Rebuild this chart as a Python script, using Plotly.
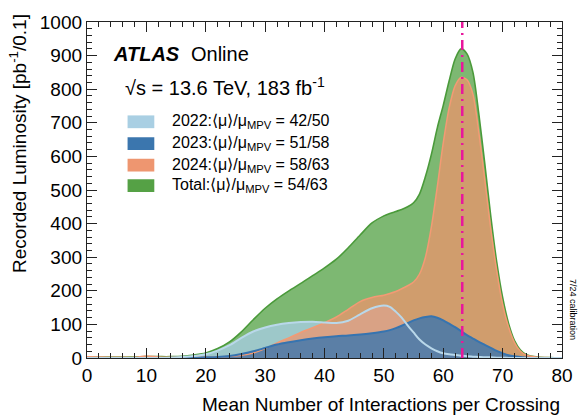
import plotly.graph_objects as go

# ---------------- data ----------------
mu = [0, 2, 4, 6, 8, 10, 12, 14, 16, 18, 20, 22, 24, 26, 28, 30, 32, 34, 36, 38, 40,
      42, 44, 46, 48, 50, 51, 52, 53, 54, 55, 56, 57, 58, 59, 60, 61, 62, 63, 64,
      65, 66, 67, 68, 69, 70, 71, 72, 73, 74, 76, 78, 80]

lumi_total = [3, 3, 3, 3, 3, 4, 4, 4, 5, 9, 15, 28, 48, 78, 114, 148, 176, 200, 222, 245, 268,
              294, 328, 366, 402, 423, 430, 436, 442, 450, 462, 488, 540, 606, 685, 752, 825, 890, 920, 905,
              850, 725, 578, 422, 286, 180, 103, 52, 24, 10, 3, 1, 0]

lumi_2022 = [0, 0, 0, 0, 0, 0, 0, 1, 3, 6, 11, 22, 38, 60, 79, 91, 99, 104, 107, 108, 106,
             104, 111, 130, 148, 156, 152, 138, 120, 97, 76, 55, 40, 29, 20, 14, 11, 9, 7, 5,
             4, 3, 2, 2, 1, 1, 0, 0, 0, 0, 0, 0, 0]

lumi_2023 = [0, 0, 0, 0, 0, 0, 0, 0, 1, 1, 2, 3, 6, 12, 20, 30, 40, 47, 53, 58, 62,
             65, 67, 70, 74, 79, 83, 89, 96, 104, 112, 118, 122, 124, 120, 112, 102, 92, 80, 68,
             58, 48, 39, 30, 21, 14, 8, 5, 3, 1, 0, 0, 0]

lumi_2024 = [4, 3, 2, 2, 2, 6, 3, 2, 2, 2, 3, 3, 5, 8, 15, 28, 45, 60, 76, 90, 105,
             122, 145, 168, 180, 187, 192, 198, 206, 215, 226, 250, 300, 390, 510, 640, 745, 810, 835, 828,
             785, 670, 530, 385, 260, 160, 92, 46, 20, 8, 2, 1, 0]

mpv_line = [63.2]

legend_labels = [
    "2022:⟨μ⟩/μ<sub>MPV</sub> = 42/50",
    "2023:⟨μ⟩/μ<sub>MPV</sub> = 51/58",
    "2024:⟨μ⟩/μ<sub>MPV</sub> = 58/63",
    "Total:⟨μ⟩/μ<sub>MPV</sub> = 54/63",
]

x_ticks = [0, 10, 20, 30, 40, 50, 60, 70, 80]
y_ticks = [0, 100, 200, 300, 400, 500, 600, 700, 800, 900, 1000]

# ---------------- styles ----------------
FONT = "Liberation Sans, Arial, Helvetica, sans-serif"
fills = {
    "total": "rgba(77,158,62,0.73)",
    "2022": "rgba(166,205,226,0.78)",
    "2024": "rgba(240,147,107,0.72)",
    "2023": "rgba(55,117,176,0.78)",
}
lines = {
    "total": "#4a9a3a",
    "2022": "#b9d8ea",
    "2024": "#f39a74",
    "2023": "#3674b0",
}
swatch = ["#a9cfe3", "#3b76ae", "#ee9670", "#55a145"]
SMOOTH = 0.8

fig = go.Figure()

series = [("total", lumi_total), ("2022", lumi_2022), ("2024", lumi_2024), ("2023", lumi_2023)]
for key, ys in series:
    fig.add_trace(go.Scatter(x=mu, y=ys, mode="lines", fill="tozeroy",
                             fillcolor=fills[key], line=dict(width=0, shape="spline", smoothing=SMOOTH),
                             hoverinfo="skip", showlegend=False))

for key, ys, w in [("total", lumi_total, 1.6), ("2024", lumi_2024, 1.5),
                   ("2023", lumi_2023, 2.0), ("2022", lumi_2022, 2.0)]:
    fig.add_trace(go.Scatter(x=mu, y=ys, mode="lines",
                             line=dict(color=lines[key], width=w, shape="spline", smoothing=SMOOTH),
                             hoverinfo="skip", showlegend=False))

# magenta dash-dot line
fig.add_shape(type="line", xref="x", yref="paper", x0=mpv_line[0], x1=mpv_line[0], y0=0, y1=1,
              line=dict(color="#e8179c", width=2.5, dash="10px,5px,2px,5px"))

axis_common = dict(showline=True, linecolor="#222", linewidth=1.3, mirror="ticks",
                   ticks="inside", ticklen=10, tickwidth=1.1, tickcolor="#222",
                   showgrid=False, zeroline=False,
                   tickfont=dict(family=FONT, size=19, color="black"))

fig.update_xaxes(range=[0, 80], tickvals=x_ticks, ticktext=[str(v) for v in x_ticks],
                 minor=dict(dtick=2, ticklen=5, ticks="inside", tickcolor="#222", tickwidth=1, showgrid=False),
                 **axis_common)
fig.update_yaxes(range=[0, 1000], tickvals=y_ticks, ticktext=[str(v) for v in y_ticks],
                 minor=dict(dtick=20, ticklen=5, ticks="inside", tickcolor="#222", tickwidth=1, showgrid=False),
                 **axis_common)

ann = []
# axis titles (ROOT style: aligned to axis end)
ann.append(dict(text="Mean Number of Interactions per Crossing", xref="paper", yref="paper",
                x=1.0, y=-0.137, xanchor="right", yanchor="middle", showarrow=False,
                font=dict(family=FONT, size=19, color="black")))
ann.append(dict(text="Recorded Luminosity [pb<sup>-1</sup>/0.1]", xref="paper", yref="paper",
                x=-0.144, y=1.03, xanchor="center", yanchor="top", textangle=-90, showarrow=False,
                font=dict(family=FONT, size=19, color="black")))
# ATLAS label
ann.append(dict(text="<b><i>ATLAS</i></b>", xref="paper", yref="paper", x=0.05, y=0.904,
                xanchor="left", yanchor="middle", showarrow=False,
                font=dict(family=FONT, size=20, color="black")))
ann.append(dict(text="Online", xref="paper", yref="paper", x=0.214, y=0.904,
                xanchor="left", yanchor="middle", showarrow=False,
                font=dict(family=FONT, size=20, color="black")))
ann.append(dict(text="√s = 13.6 TeV, 183 fb<sup>-1</sup>", xref="paper", yref="paper", x=0.075, y=0.808,
                xanchor="left", yanchor="middle", showarrow=False,
                font=dict(family=FONT, size=20, color="black")))
ann.append(dict(text="7/24 calibration", xref="paper", yref="paper", x=1.023, y=0.143,
                xanchor="center", yanchor="middle", textangle=90, showarrow=False,
                font=dict(family=FONT, size=9, color="black")))

# legend (custom, ROOT style)
row_y = [0.703, 0.638, 0.574, 0.513]
for lab, col, yy in zip(legend_labels, swatch, row_y):
    fig.add_shape(type="rect", xref="paper", yref="paper", x0=0.0854, x1=0.1417,
                  y0=yy - 0.019, y1=yy + 0.019, fillcolor=col, line=dict(width=0))
    ann.append(dict(text=lab, xref="paper", yref="paper", x=0.175, y=yy,
                    xanchor="left", yanchor="middle", showarrow=False,
                    font=dict(family=FONT, size=16, color="black")))

fig.update_layout(width=585, height=417, margin=dict(l=87, r=18, t=15, b=59),
                  plot_bgcolor="white", paper_bgcolor="white", showlegend=False,
                  font=dict(family=FONT, color="black"), annotations=ann)

fig.write_html("out.html")
